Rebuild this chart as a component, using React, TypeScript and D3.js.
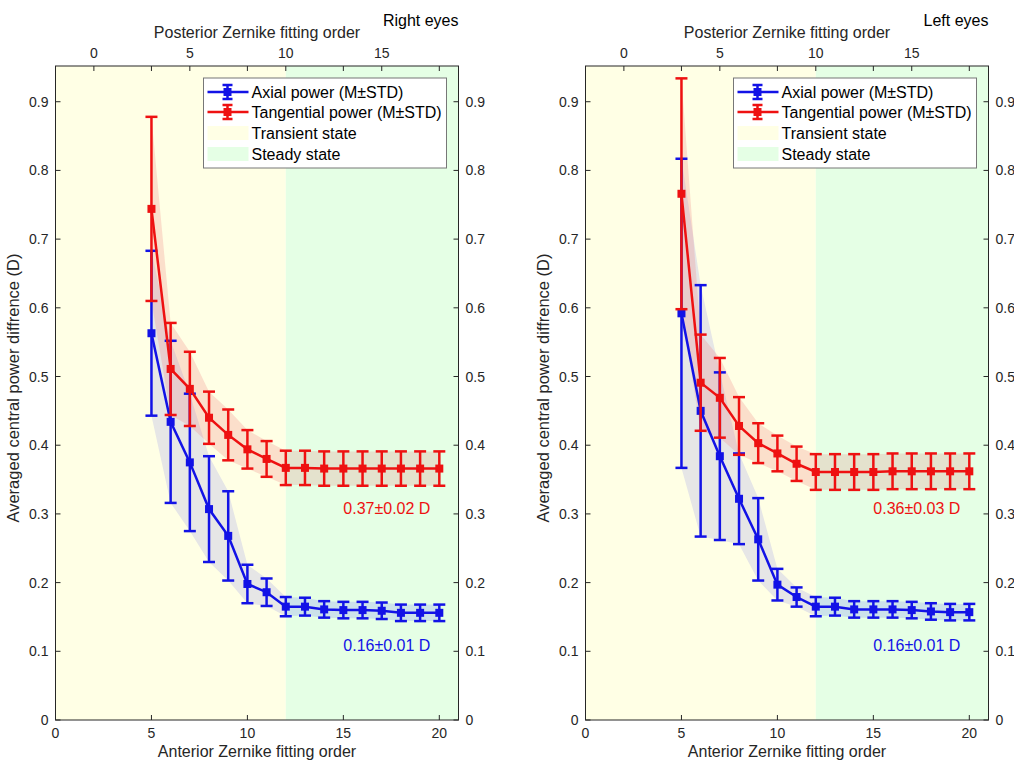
import React from 'react';
import * as d3 from 'd3';

// Anterior fitting orders (x) for all series
const orders = [5, 6, 7, 8, 9, 10, 11, 12, 13, 14, 15, 16, 17, 18, 19, 20];

// Right eyes
const rightAxialMean = [0.563, 0.434, 0.375, 0.307, 0.268, 0.198, 0.186, 0.165, 0.165, 0.161, 0.160, 0.160, 0.159, 0.156, 0.156, 0.156];
const rightAxialStd = [0.12, 0.118, 0.1, 0.077, 0.065, 0.028, 0.02, 0.014, 0.013, 0.012, 0.012, 0.012, 0.012, 0.012, 0.012, 0.012];
const rightTangMean = [0.744, 0.511, 0.482, 0.44, 0.415, 0.394, 0.38, 0.367, 0.367, 0.366, 0.366, 0.366, 0.366, 0.366, 0.366, 0.366];
const rightTangStd = [0.134, 0.067, 0.054, 0.038, 0.037, 0.028, 0.026, 0.025, 0.025, 0.025, 0.025, 0.025, 0.025, 0.025, 0.025, 0.025];

// Left eyes
const leftAxialMean = [0.592, 0.45, 0.384, 0.322, 0.263, 0.197, 0.179, 0.165, 0.165, 0.161, 0.161, 0.161, 0.16, 0.158, 0.157, 0.157];
const leftAxialStd = [0.225, 0.183, 0.122, 0.066, 0.06, 0.023, 0.014, 0.014, 0.013, 0.012, 0.012, 0.012, 0.012, 0.012, 0.012, 0.012];
const leftTangMean = [0.766, 0.491, 0.469, 0.428, 0.403, 0.388, 0.373, 0.361, 0.361, 0.361, 0.361, 0.362, 0.362, 0.362, 0.362, 0.362];
const leftTangStd = [0.168, 0.07, 0.058, 0.042, 0.029, 0.026, 0.025, 0.026, 0.026, 0.026, 0.026, 0.026, 0.026, 0.026, 0.026, 0.026];

const xTicks = [0, 5, 10, 15, 20];
const posteriorTicks = [0, 5, 10, 15];
const yTicks = [0, 0.1, 0.2, 0.3, 0.4, 0.5, 0.6, 0.7, 0.8, 0.9];
const steadyStart = 12;
const posteriorOffset = 2;

const legendLabels = ['Axial power (M\u00B1STD)', 'Tangential power (M\u00B1STD)', 'Transient state', 'Steady state'];

const FONT = '"Liberation Sans", Arial, sans-serif';
const AXIS = '#262626';
const BLUE = '#1212E6';
const RED = '#EE1111';
const YELLOW = '#FFFFE5';
const GREEN = '#E5FFE5';

type PanelProps = {
  id: string;
  left: number;
  title: string;
  axialMean: number[];
  axialStd: number[];
  tangMean: number[];
  tangStd: number[];
  tangNote: string;
  axialNote: string;
};

const Panel = ({ id, left, title, axialMean, axialStd, tangMean, tangStd, tangNote, axialNote }: PanelProps) => {
  const top = 66;
  const bottom = 720;
  const width = 403;
  const x = d3.scaleLinear().domain([0, 21]).range([left, left + width]);
  const y = d3.scaleLinear().domain([0, 0.952]).range([bottom, top]);

  const band = (mean: number[], std: number[]) =>
    d3.area<number>()
      .x((_, i) => x(orders[i]))
      .y0((d, i) => y(d - std[i]))
      .y1((d, i) => y(d + std[i]))(mean) || '';

  const line = (mean: number[]) =>
    d3.line<number>()
      .x((_, i) => x(orders[i]))
      .y(d => y(d))(mean) || '';

  const series = (mean: number[], std: number[], color: string) => (
    <g>
      <path d={line(mean)} fill="none" stroke={color} strokeWidth={2.5} />
      {mean.map((m, i) => {
        const cx = x(orders[i]);
        return (
          <g key={i} stroke={color} strokeWidth={2.5}>
            <line x1={cx} x2={cx} y1={y(m - std[i])} y2={y(m + std[i])} />
            <line x1={cx - 6} x2={cx + 6} y1={y(m - std[i])} y2={y(m - std[i])} />
            <line x1={cx - 6} x2={cx + 6} y1={y(m + std[i])} y2={y(m + std[i])} />
            <rect x={cx - 4} y={y(m) - 4} width={8} height={8} fill={color} stroke="none" />
          </g>
        );
      })}
    </g>
  );

  const lgX = left + 148;
  const lgY = 78;
  const rowY = [92, 112, 133, 154];

  return (
    <g fontFamily={FONT}>
      <defs>
        <clipPath id={`${id}-tr`}>
          <rect x={x(0)} y={top} width={x(steadyStart) - x(0)} height={bottom - top} />
        </clipPath>
        <clipPath id={`${id}-st`}>
          <rect x={x(steadyStart)} y={top} width={x(21) - x(steadyStart)} height={bottom - top} />
        </clipPath>
      </defs>
      <rect x={x(0)} y={top} width={x(steadyStart) - x(0)} height={bottom - top} fill={YELLOW} />
      <rect x={x(steadyStart)} y={top} width={x(21) - x(steadyStart)} height={bottom - top} fill={GREEN} />

      <g clipPath={`url(#${id}-tr)`}>
        <path d={band(axialMean, axialStd)} fill="#E6E6E6" />
        <path d={band(tangMean, tangStd)} fill="#F08080" fillOpacity={0.25} />
      </g>
      <g clipPath={`url(#${id}-st)`}>
        <path d={band(axialMean, axialStd)} fill="#CCE2EA" />
        <path d={band(tangMean, tangStd)} fill="#E4E2CD" />
      </g>

      {series(axialMean, axialStd, BLUE)}
      {series(tangMean, tangStd, RED)}

      <text x={x(15)} y={y(0.3)} fill={RED} fontSize={16}>{tangNote}</text>
      <text x={x(15)} y={y(0.101)} fill={BLUE} fontSize={16}>{axialNote}</text>

      {/* axes box */}
      <rect x={x(0)} y={top} width={width} height={bottom - top} fill="none" stroke={AXIS} strokeWidth={1} />
      <g stroke={AXIS} strokeWidth={1}>
        {xTicks.map(t => (
          <g key={`xt${t}`}>
            <line x1={x(t)} x2={x(t)} y1={bottom} y2={bottom - 5} />
            <line x1={x(t)} x2={x(t)} y1={top} y2={top + 5} />
          </g>
        ))}
        {posteriorTicks.map(t => (
          <line key={`pt${t}`} x1={x(t + posteriorOffset)} x2={x(t + posteriorOffset)} y1={top} y2={top + 5} />
        ))}
        {yTicks.map(t => (
          <g key={`yt${t}`}>
            <line x1={x(0)} x2={x(0) + 5} y1={y(t)} y2={y(t)} />
            <line x1={x(21)} x2={x(21) - 5} y1={y(t)} y2={y(t)} />
          </g>
        ))}
      </g>
      <g fill={AXIS} fontSize={14}>
        {xTicks.map(t => (
          <text key={`xl${t}`} x={x(t)} y={bottom + 18} textAnchor="middle">{t}</text>
        ))}
        {posteriorTicks.map(t => (
          <text key={`pl${t}`} x={x(t + posteriorOffset)} y={top - 8} textAnchor="middle">{t}</text>
        ))}
        {yTicks.map(t => (
          <g key={`yl${t}`}>
            <text x={x(0) - 7} y={y(t) + 5} textAnchor="end">{d3.format('~g')(t)}</text>
            <text x={x(21) + 7} y={y(t) + 5} textAnchor="start">{d3.format('~g')(t)}</text>
          </g>
        ))}
      </g>
      <text x={left + width / 2} y={757} fontSize={16} fill={AXIS} textAnchor="middle">Anterior Zernike fitting order</text>
      <text x={left + width / 2} y={38} fontSize={16} fill={AXIS} textAnchor="middle">Posterior Zernike fitting order</text>
      <text x={left + width} y={26} fontSize={16} fill="#000" textAnchor="end">{title}</text>
      <text transform={`translate(${left - 37},${(top + bottom) / 2 - 5}) rotate(-90)`} fontSize={16.5} fill={AXIS} textAnchor="middle">
        Averaged central power diffrence (D)
      </text>

      {/* legend */}
      <rect x={lgX} y={lgY} width={243} height={90} fill="#fff" stroke="#777" strokeWidth={1} />
      {[BLUE, RED].map((c, i) => (
        <g key={`lg${i}`} stroke={c} strokeWidth={2.5}>
          <line x1={lgX + 4} x2={lgX + 45} y1={rowY[i]} y2={rowY[i]} />
          <line x1={lgX + 24} x2={lgX + 24} y1={rowY[i] - 7} y2={rowY[i] + 7} />
          <line x1={lgX + 19} x2={lgX + 29} y1={rowY[i] - 7} y2={rowY[i] - 7} />
          <line x1={lgX + 19} x2={lgX + 29} y1={rowY[i] + 7} y2={rowY[i] + 7} />
          <rect x={lgX + 20} y={rowY[i] - 4} width={8} height={8} fill={c} stroke="none" />
        </g>
      ))}
      <rect x={lgX + 4} y={rowY[2] - 7} width={41} height={14} fill={YELLOW} />
      <rect x={lgX + 4} y={rowY[3] - 7} width={41} height={14} fill={GREEN} />
      {legendLabels.map((l, i) => (
        <text key={`ll${i}`} x={lgX + 48} y={rowY[i] + 6} fontSize={16} fill="#000">{l}</text>
      ))}
    </g>
  );
};

export default function App() {
  return (
    <svg width={1014} height={762} style={{ position: 'absolute', left: 0, top: 0 }}>
      <rect width={1014} height={762} fill="#fff" />
      <Panel id="re" left={55.5} title="Right eyes"
        axialMean={rightAxialMean} axialStd={rightAxialStd}
        tangMean={rightTangMean} tangStd={rightTangStd}
        tangNote="0.37±0.02 D" axialNote="0.16±0.01 D" />
      <Panel id="le" left={585.5} title="Left eyes"
        axialMean={leftAxialMean} axialStd={leftAxialStd}
        tangMean={leftTangMean} tangStd={leftTangStd}
        tangNote="0.36±0.03 D" axialNote="0.16±0.01 D" />
    </svg>
  );
}
